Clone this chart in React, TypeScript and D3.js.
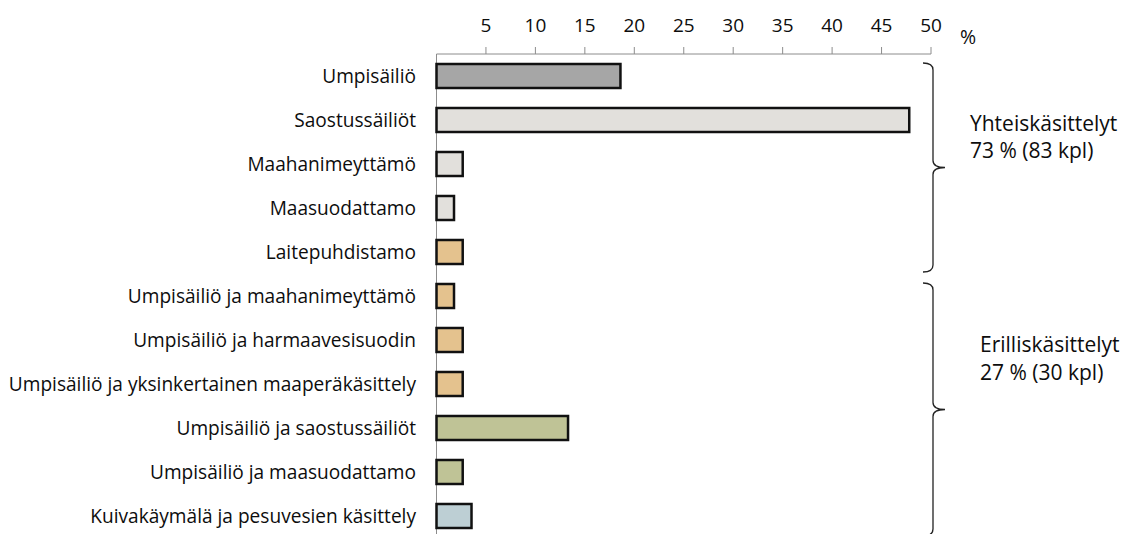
import React from 'react'
import * as d3 from 'd3'

// kategoriat ylhäältä alas
const categories = [
    'Umpisäiliö',
    'Saostussäiliöt',
    'Maahanimeyttämö',
    'Maasuodattamo',
    'Laitepuhdistamo',
    'Umpisäiliö ja maahanimeyttämö',
    'Umpisäiliö ja harmaavesisuodin',
    'Umpisäiliö ja yksinkertainen maaperäkäsittely',
    'Umpisäiliö ja saostussäiliöt',
    'Umpisäiliö ja maasuodattamo',
    'Kuivakäymälä ja pesuvesien käsittely',
]

// osuus (%) kiinteistöistä
const shares = [18.6, 47.8, 2.65, 1.77, 2.65, 1.77, 2.65, 2.65, 13.3, 2.65, 3.54]

const barColors = [
    '#a6a6a6',
    '#e2e0dc',
    '#e2e0dc',
    '#e2e0dc',
    '#e4c28e',
    '#e4c28e',
    '#e4c28e',
    '#e4c28e',
    '#bfc396',
    '#bfc396',
    '#bdcfd4',
]

const xTicks = [5, 10, 15, 20, 25, 30, 35, 40, 45, 50]

const groups = [
    { from: 0, to: 4, lines: ['Yhteiskäsittelyt', '73 % (83 kpl)'] },
    { from: 5, to: 10, lines: ['Erilliskäsittelyt', '27 % (30 kpl)'] },
]

const FONT = "'Open Sans', 'Noto Sans', sans-serif"

export default function App() {
    const width = 1121
    const height = 534
    const margin = { top: 54, left: 436.5 }

    const x = d3.scaleLinear().domain([0, 50]).range([margin.left, 931])
    const y = d3
        .scaleBand<string>()
        .domain(categories)
        .range([margin.top, margin.top + 44 * categories.length])
        .paddingInner(0.4545)
        .paddingOuter(0.2273)

    const center = (i: number) => (y(categories[i]) ?? 0) + y.bandwidth() / 2

    // aaltosulje
    const bracePath = (top: number, bottom: number, bx: number) => {
        const mid = (top + bottom) / 2
        return [
            `M${bx - 10},${top}`,
            `Q${bx},${top} ${bx},${top + 7}`,
            `V${mid - 7}`,
            `Q${bx},${mid} ${bx + 12},${mid}`,
            `Q${bx},${mid} ${bx},${mid + 7}`,
            `V${bottom - 7}`,
            `Q${bx},${bottom} ${bx - 10},${bottom}`,
        ].join(' ')
    }

    return (
        <svg
            width={width}
            height={height}
            style={{ position: 'absolute', left: 0, top: 0, background: '#fff' }}
            fontFamily={FONT}
        >
            {/* x-akseli ylhäällä */}
            <line x1={x(0)} x2={x(50)} y1={margin.top} y2={margin.top} stroke="#8c8c8c" strokeWidth={1} />
            {xTicks.map((t) => (
                <g key={t}>
                    <line x1={x(t)} x2={x(t)} y1={margin.top - 7} y2={margin.top} stroke="#8c8c8c" strokeWidth={1} />
                    <text x={x(t)} y={25} textAnchor="middle" dominantBaseline="central" fontSize={19} fill="#0d0d0d">
                        {t}
                    </text>
                </g>
            ))}
            <text x={968} y={36} textAnchor="middle" dominantBaseline="central" fontSize={19.5} fill="#0d0d0d">
                %
            </text>

            {/* pystyakseli */}
            <line x1={x(0)} x2={x(0)} y1={margin.top} y2={height} stroke="#8c8c8c" strokeWidth={1} />

            {categories.map((c, i) => (
                <g key={c}>
                    <rect
                        x={x(0)}
                        y={y(c)}
                        width={x(shares[i]) - x(0)}
                        height={y.bandwidth()}
                        fill={barColors[i]}
                        stroke="#111"
                        strokeWidth={2.5}
                    />
                    <text
                        x={416}
                        y={center(i)}
                        textAnchor="end"
                        dominantBaseline="central"
                        fontSize={19.1}
                        fill="#0d0d0d"
                    >
                        {c}
                    </text>
                </g>
            ))}

            {groups.map((g, gi) => {
                const top = center(g.from) - 13
                const bottom = center(g.to) + 20
                const mid = (top + bottom) / 2
                const textTop = gi === 0 ? mid - 37 : mid - 57
                return (
                    <g key={gi}>
                        <path d={bracePath(top, bottom, 933)} fill="none" stroke="#222" strokeWidth={1.3} />
                        {g.lines.map((l, li) => (
                            <text
                                key={li}
                                x={gi === 0 ? 970 : 980}
                                y={textTop + li * 27.5}
                                fontSize={21}
                                fill="#0d0d0d"
                            >
                                {l}
                            </text>
                        ))}
                    </g>
                )
            })}
        </svg>
    )
}
